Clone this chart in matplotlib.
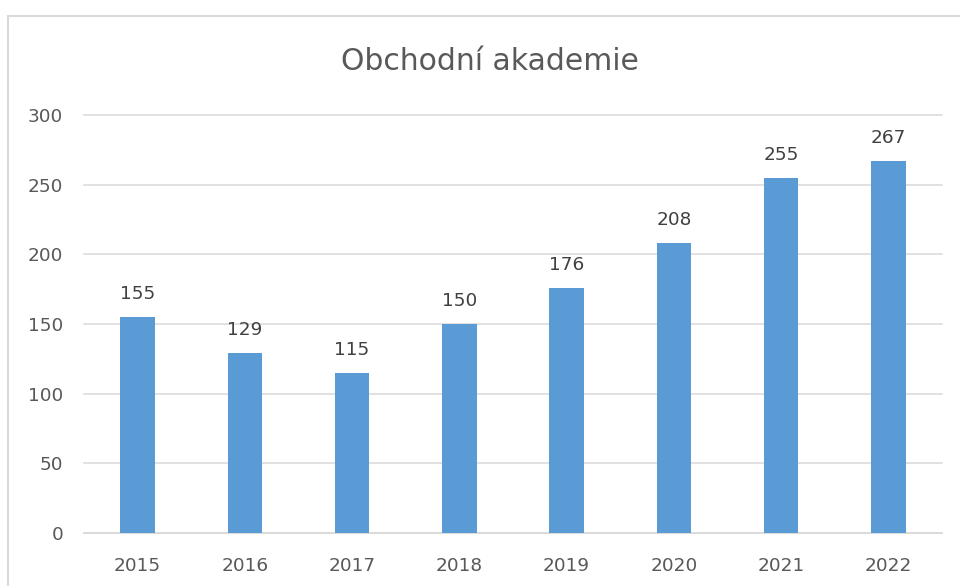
import matplotlib.pyplot as plt
from matplotlib.patches import Rectangle

# data
years = ['2015', '2016', '2017', '2018', '2019', '2020', '2021', '2022']
pupils = [155, 129, 115, 150, 176, 208, 255, 267]
yticks = [0, 50, 100, 150, 200, 250, 300]

plt.rcParams['font.family'] = ['DejaVu Sans']

fig = plt.figure(figsize=(9.6, 5.86), dpi=100)
ax = fig.add_axes([84 / 960, 53 / 586, 858 / 960, 418 / 586])

# chart area frame (cropped on the right and bottom)
fig.patches.append(Rectangle((8 / 960, -0.1), 1.2, 1.1 - 16 / 586,
                             transform=fig.transFigure, fill=False,
                             edgecolor='#d9d9d9', linewidth=1.5))

x = range(len(years))
bars = ax.bar(x, pupils, width=0.32, color='#5b9bd5', zorder=3)
for xi, v in zip(x, pupils):
    ax.annotate(str(v), (xi, v), xytext=(0, 10), textcoords='offset points',
                ha='center', va='bottom', fontsize=13.3, color='#404040')

ax.set_xlim(-0.5, len(years) - 0.5)
ax.set_ylim(0, 300)
ax.set_yticks(yticks)
ax.set_xticks(list(x))
ax.set_xticklabels(years)
ax.tick_params(axis='both', length=0, labelsize=13.3, labelcolor='#595959')
ax.tick_params(axis='y', pad=15)
ax.tick_params(axis='x', pad=17)
ax.yaxis.grid(True, color='#d9d9d9', linewidth=1.1, zorder=0)
for gl in ax.get_ygridlines():
    gl.set_clip_on(False)
for s in ['top', 'right', 'left']:
    ax.spines[s].set_visible(False)
ax.spines['bottom'].set_color('#d9d9d9')
ax.spines['bottom'].set_linewidth(1.1)

fig.text(490 / 960, 1 - 62 / 586, 'Obchodní akademie', ha='center', va='center',
         fontsize=21.5, color='#595959')

fig.savefig('out.png', dpi=100)
